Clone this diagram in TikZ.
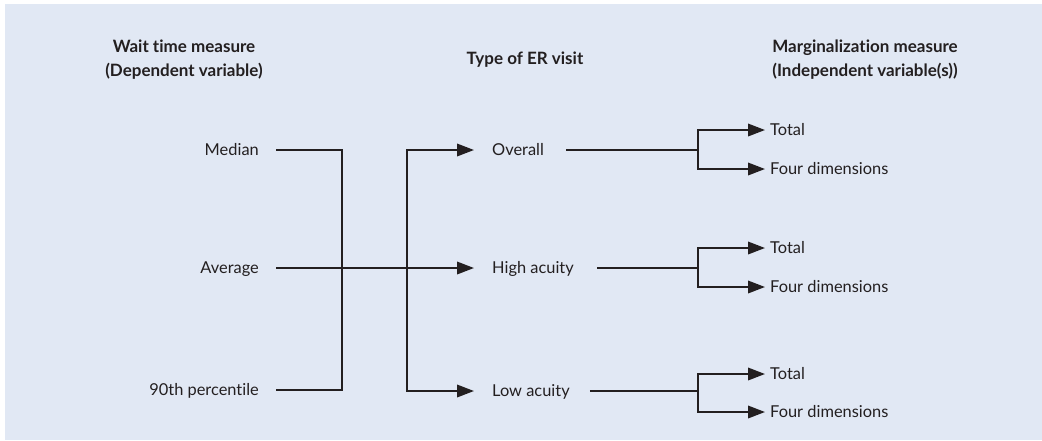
\documentclass[tikz,border=0pt]{standalone}
\usepackage{fontspec}
\setmainfont{Lato}[Ligatures=NoCommon]
\usetikzlibrary{arrows.meta}
\definecolor{bgblue}{HTML}{E1E8F4}
\definecolor{ink}{HTML}{231F20}
\tikzset{
  lbl/.style={inner sep=0pt, text height=11.7pt, text depth=0pt, font=\fontsize{16.4}{19}\selectfont, text=ink},
  hdr/.style={inner sep=0pt, align=center, font=\bfseries\fontsize{17}{24}\selectfont, text=ink},
  ln/.style={draw=ink, line width=1.9pt},
  tip/.style={arrows={-Triangle[length=17pt,width=12.5pt]}},
  tips/.style={arrows={Triangle[length=17pt,width=12.5pt]-Triangle[length=17pt,width=12.5pt]}}
}
\begin{document}
\begin{tikzpicture}[x=1pt,y=-1pt]
\useasboundingbox (0,0) rectangle (1042,440);
\fill[bgblue] (5,4) rectangle (1042,440);
% headers
\node[hdr] (h1) at (184,60) {Wait time measure\\(Dependent variable)};
\node[hdr] (h2) at (525,60) {Type of ER visit};
\node[hdr] (h3) at (865,60) {Marginalization measure\\(Independent variable(s))};
% left column
\node[lbl,anchor=east] (med) at (259,150) {Median};
\node[lbl,anchor=east] (avg) at (259,268) {Average};
\node[lbl,anchor=east] (p90) at (259,390) {90th percentile};
% middle column
\node[lbl,anchor=west] (ov) at (492,150) {Overall};
\node[lbl,anchor=west] (hi) at (492,268) {High acuity};
\node[lbl,anchor=west] (lo) at (492,391) {Low acuity};
% right column
\node[lbl,anchor=west] (t1) at (770,130) {Total};
\node[lbl,anchor=west] (f1) at (770,169) {Four dimensions};
\node[lbl,anchor=west] (t2) at (770,248) {Total};
\node[lbl,anchor=west] (f2) at (770,287) {Four dimensions};
\node[lbl,anchor=west] (t3) at (770,374) {Total};
\node[lbl,anchor=west] (f3) at (770,412) {Four dimensions};
% junctions
\coordinate (j1) at (342,268);
\coordinate (j2) at (407,268);
\coordinate (b1) at (698,150);
\coordinate (b2) at (698,268);
\coordinate (b3) at (698,391);
% connectors
\draw[ln] ([xshift=17pt]med.east) -| (j1) |- ([xshift=17pt]p90.east);
\draw[ln,tip] ([xshift=17pt]avg.east) -- ([xshift=-18pt]hi.west);
\draw[ln,tips] ([xshift=-18pt]ov.west) -| (j2) |- ([xshift=-18pt]lo.west);
\draw[ln] ([xshift=22pt]ov.east) -- (b1);
\draw[ln] ([xshift=23pt]hi.east) -- (b2);
\draw[ln] ([xshift=20pt]lo.east) -- (b3);
\draw[ln,tips] ([xshift=-5pt]t1.west) -| (b1) |- ([xshift=-5pt]f1.west);
\draw[ln,tips] ([xshift=-5pt]t2.west) -| (b2) |- ([xshift=-5pt]f2.west);
\draw[ln,tips] ([xshift=-5pt]t3.west) -| (b3) |- ([xshift=-5pt]f3.west);
\end{tikzpicture}
\end{document}
